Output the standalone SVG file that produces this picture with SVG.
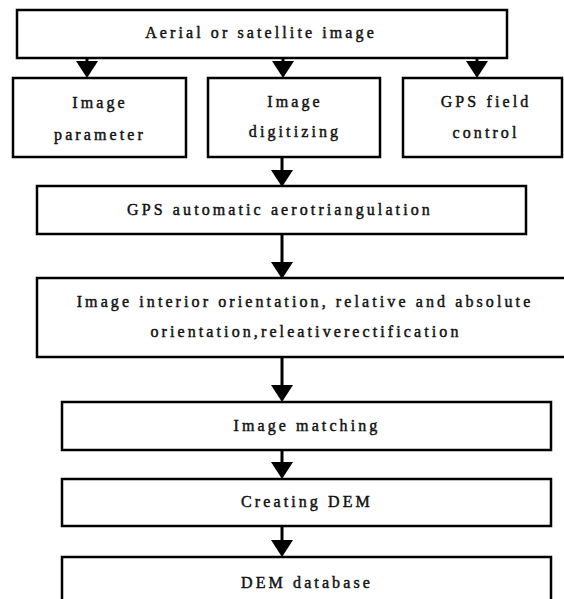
<svg xmlns="http://www.w3.org/2000/svg" width="564" height="599" viewBox="0 0 564 599">
<style>
.box{fill:#fff;stroke:#000;stroke-width:2.5}
.t{font-family:"Liberation Serif","Times New Roman",serif;font-size:16px;font-weight:normal;letter-spacing:3.1px;text-anchor:middle;fill:#111;stroke:#111;stroke-width:0.45}
.c{stroke:#000;stroke-width:3;fill:none;marker-end:url(#ah)}
</style>
<defs>
<marker id="ah" markerUnits="userSpaceOnUse" markerWidth="17" markerHeight="22" refX="8" refY="11" orient="auto" viewBox="0 0 17 22">
<path d="M0,0 L17,11 L0,22 z" fill="#000"/>
</marker>
</defs>
<rect width="564" height="599" fill="#fff"/>
<g id="connectors">
<line class="c" x1="87" y1="58" x2="87" y2="69"/>
<line class="c" x1="283" y1="58" x2="283" y2="69"/>
<line class="c" x1="477" y1="58" x2="477" y2="69"/>
<line class="c" x1="282" y1="157" x2="282" y2="178"/>
<line class="c" x1="282" y1="234" x2="282" y2="270"/>
<line class="c" x1="282" y1="357" x2="282" y2="393"/>
<line class="c" x1="282" y1="450" x2="282" y2="470"/>
<line class="c" x1="282" y1="526" x2="282" y2="548"/>
</g>
<g id="n1"><rect class="box" x="17" y="10" width="490" height="48"/><text class="t" x="261" y="38">Aerial or satellite image</text></g>
<g id="n2"><rect class="box" x="13" y="78" width="173" height="79"/><text class="t" x="100" y="108">Image</text><text class="t" x="100" y="140">parameter</text></g>
<g id="n3"><rect class="box" x="208" y="78" width="172" height="79"/><text class="t" x="295" y="107">Image</text><text class="t" x="295" y="137">digitizing</text></g>
<g id="n4"><rect class="box" x="403" y="78" width="159" height="79"/><text class="t" x="486" y="107">GPS field</text><text class="t" x="486" y="138">control</text></g>
<g id="n5"><rect class="box" x="37" y="186" width="489" height="48"/><text class="t" x="280" y="215">GPS automatic aerotriangulation</text></g>
<g id="n6"><rect class="box" x="37" y="278" width="540" height="79"/><text class="t" x="305" y="307">Image interior orientation, relative and absolute</text><text class="t" x="306" y="337">orientation,releativerectification</text></g>
<g id="n7"><rect class="box" x="62" y="402" width="489" height="48"/><text class="t" x="307" y="431">Image matching</text></g>
<g id="n8"><rect class="box" x="62" y="479" width="489" height="47"/><text class="t" x="307" y="507">Creating DEM</text></g>
<g id="n9"><rect class="box" x="62" y="557" width="489" height="60"/><text class="t" x="307" y="588">DEM  database</text></g>
</svg>
